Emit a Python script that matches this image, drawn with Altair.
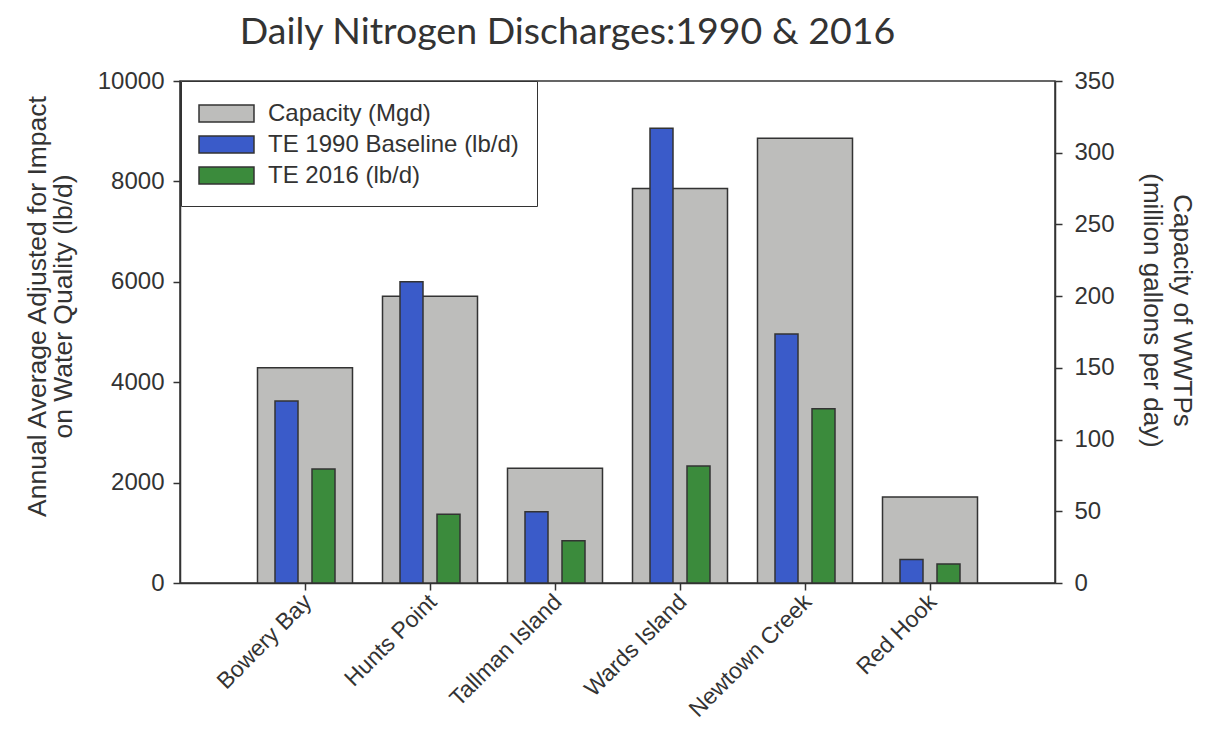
import altair as alt
import pandas as pd

plants = ["Bowery Bay", "Hunts Point", "Tallman Island", "Wards Island", "Newtown Creek", "Red Hook"]
capacity_mgd = [150, 200, 80, 275, 310, 60]
te_1990 = [3625, 6000, 1420, 9060, 4960, 470]
te_2016 = [2270, 1370, 840, 2330, 3470, 380]

series_names = ["Capacity (Mgd)", "TE 1990 Baseline (lb/d)", "TE 2016 (lb/d)"]
series_colors = ["#bdbdbb", "#3a5bc9", "#3b8b3c"]
left_ticks = [0, 2000, 4000, 6000, 8000, 10000]
right_ticks = [0, 50, 100, 150, 200, 250, 300, 350]

df = pd.DataFrame({"plant": plants, "capacity": capacity_mgd, "te1990": te_1990, "te2016": te_2016})

FONT = "Liberation Sans"
INK = "#333333"

x_enc = alt.X(
    "plant:N", sort=plants,
    scale=alt.Scale(paddingInner=0, paddingOuter=0.5),
    axis=alt.Axis(title=None, labelAngle=-45, labelAlign="right", labelBaseline="middle",
                  labelFontSize=23, labelFont=FONT, labelColor=INK, labelPadding=8, labelOffset=3,
                  tickSize=7,
                  grid=False, domainColor=INK, tickColor=INK, domainWidth=1.5, tickWidth=1.5),
)

color_scale = alt.Scale(domain=series_names, range=series_colors)
legend = alt.Legend(
    title=None, orient="none", legendX=1, legendY=0,
    fillColor="white", strokeColor=INK, padding=18,
    symbolType="M-2,-0.62H2V0.62H-2Z", symbolSize=756,
    symbolOffset=13,
    symbolStrokeColor=INK, symbolStrokeWidth=1.5, symbolOpacity=1,
    labelFontSize=24, labelFont=FONT, labelColor=INK, labelLimit=500,
    labelOffset=27, rowPadding=4,
)

base = alt.Chart(df)

gray = base.transform_calculate(series="'Capacity (Mgd)'").mark_bar(
    width=alt.RelativeBandSize(0.76), stroke=INK, strokeWidth=1.5, opacity=1
).encode(
    x=x_enc,
    y=alt.Y("capacity:Q", scale=alt.Scale(domain=[0, 350], nice=False, zero=True),
            axis=alt.Axis(orient="right", values=right_ticks, tickSize=7, labelPadding=12,
                          labelFontSize=24, labelFont=FONT, labelColor=INK,
                          grid=False, domainColor=INK, tickColor=INK, domainWidth=1.5, tickWidth=1.5,
                          title=["Capacity of WWTPs", "(million gallons per day)"],
                          titleFont=FONT, titleFontSize=26, titleFontWeight="normal",
                          titleColor=INK, titleLineHeight=30,
                          titleAngle=90, titleY=229, titlePadding=24)),
    color=alt.Color("series:N", scale=color_scale, legend=legend),
)

blue = base.transform_calculate(series="'TE 1990 Baseline (lb/d)'").mark_bar(
    width=23, xOffset=-18.5, stroke=INK, strokeWidth=1.5, opacity=1
).encode(
    x=x_enc,
    y=alt.Y("te1990:Q", scale=alt.Scale(domain=[0, 10000], nice=False, zero=True),
            axis=alt.Axis(orient="left", values=left_ticks, format="d", tickSize=7, labelPadding=9,
                          labelFontSize=24, labelFont=FONT, labelColor=INK,
                          grid=False, domainColor=INK, tickColor=INK, domainWidth=1.5, tickWidth=1.5,
                          title=["Annual Average Adjusted for Impact", "on Water Quality (lb/d)"],
                          titleFont=FONT, titleFontSize=26.5, titleFontWeight="normal",
                          titleColor=INK, titleLineHeight=26,
                          titleY=225, titlePadding=20)),
    color=alt.Color("series:N", scale=color_scale, legend=legend),
)

green = base.transform_calculate(series="'TE 2016 (lb/d)'").mark_bar(
    width=23, xOffset=18.5, stroke=INK, strokeWidth=1.5, opacity=1
).encode(
    x=x_enc,
    y=alt.Y("te2016:Q", scale=alt.Scale(domain=[0, 10000], nice=False, zero=True), axis=None),
    color=alt.Color("series:N", scale=color_scale, legend=legend),
)

chart = alt.layer(gray, blue, green).resolve_scale(y="independent").properties(
    width=875, height=502,
    background="white",
    autosize=alt.AutoSizeParams(type="none"),
    padding={"left": 172, "top": 73, "right": 150, "bottom": 141},
    title=alt.TitleParams(
        text="Daily Nitrogen Discharges:1990 & 2016", font="Lato", fontSize=37.5,
        fontWeight="normal", color=INK, anchor="middle", dx=-50, offset=18,
    ),
).configure_view(
    stroke=INK, strokeWidth=1.5
)

chart.save("out.html", embed_options={"renderer": "svg", "actions": False})
